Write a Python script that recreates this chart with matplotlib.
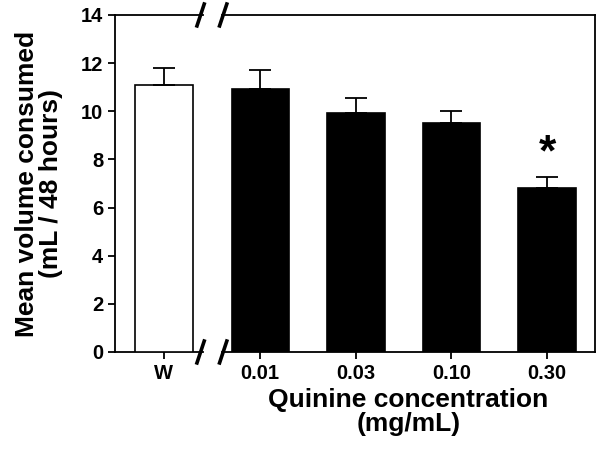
import matplotlib.pyplot as plt

plt.rcParams['font.family'] = 'Liberation Sans'
plt.rcParams['font.weight'] = 'bold'

# water control
ctrl_label = ["W"]
ctrl_mean = [11.1]
ctrl_err = [0.7]

# quinine groups
conc_labels = ["0.01", "0.03", "0.10", "0.30"]
conc_mean = [10.93, 9.93, 9.5, 6.81]
conc_err = [0.78, 0.64, 0.53, 0.45]

fig = plt.figure(figsize=(6.04, 4.55), dpi=100)
ax1 = fig.add_axes([0.1904, 0.2264, 0.1457, 0.7407])
ax2 = fig.add_axes([0.3675, 0.2264, 0.6175, 0.7407])

ekw = dict(elinewidth=1.3, capsize=8, capthick=1.3, ecolor='black')
ax1.bar(range(len(ctrl_mean)), ctrl_mean, width=0.6, color='white',
        edgecolor='black', linewidth=1.2, yerr=[[0] * len(ctrl_err), ctrl_err],
        error_kw=ekw, zorder=3)
ax2.bar(range(len(conc_mean)), conc_mean, width=0.6, color='black',
        edgecolor='black', linewidth=1.2, yerr=[[0] * len(conc_err), conc_err],
        error_kw=ekw, zorder=3)

# significance mark
ax2.text(3, conc_mean[3] + conc_err[3] + 0.95, '*', ha='center', va='center',
         fontsize=32, fontweight='bold')

ax1.set_xlim(-0.5, 0.4)
ax1.set_xticks(range(len(ctrl_label)))
ax1.set_xticklabels(ctrl_label)
ax1.spines['right'].set_visible(False)
ax1.set_yticks(range(0, 15, 2))

ax2.set_xlim(-0.4, 3.5)
ax2.set_xticks(range(len(conc_labels)))
ax2.set_xticklabels(conc_labels)
ax2.spines['left'].set_visible(False)

for ax in (ax1, ax2):
    ax.set_ylim(0, 14)
    for s in ax.spines.values():
        s.set_linewidth(1.3)
    ax.tick_params(direction='out', length=5, width=1.3, labelsize=14.5)
    for lab in ax.get_xticklabels() + ax.get_yticklabels():
        lab.set_fontsize(14.5)
        lab.set_fontweight('bold')
ax2.tick_params(axis='y', left=False, labelleft=False)

# break marks
d = 0.012
kw = dict(color='black', lw=2.6, clip_on=False)
for y in (0.2264, 0.2264 + 0.7407):
    x = 0.1904 + 0.1457 - 0.004
    fig.add_artist(plt.Line2D([x - d / 2, x + d / 2], [y - 0.024, y + 0.024], **kw))
    x = 0.3675 + 0.002
    fig.add_artist(plt.Line2D([x - d / 2, x + d / 2], [y - 0.024, y + 0.024], **kw))

ax1.set_ylabel('Mean volume consumed\n(mL / 48 hours)', fontsize=19,
               fontweight='bold', linespacing=1.0)
ax1.yaxis.set_label_coords(-0.59, 0.5)
ax2.set_xlabel('Quinine concentration\n(mg/mL)', fontsize=19,
               fontweight='bold', labelpad=4, linespacing=1.0)

fig.savefig('out.png', dpi=100)
